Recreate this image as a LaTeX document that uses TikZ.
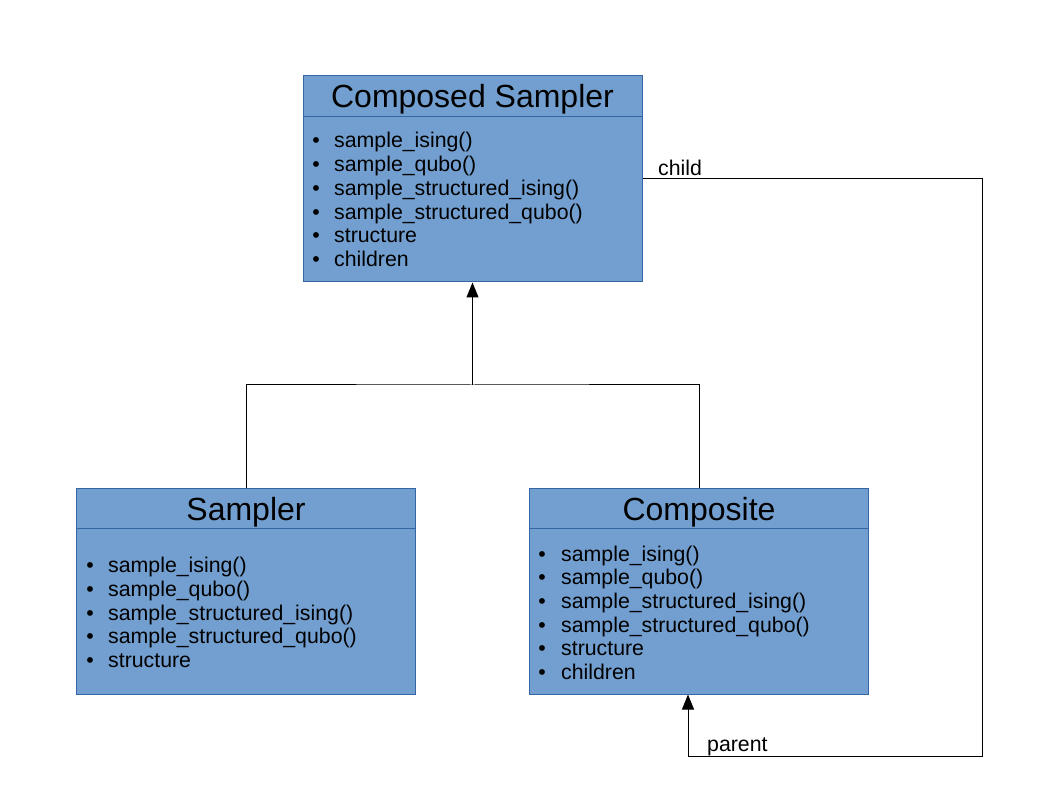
\documentclass[tikz,border=0pt]{standalone}
\usepackage{fontspec}
\setmainfont{Liberation Sans}
\usetikzlibrary{arrows.meta}
\definecolor{boxfill}{HTML}{729FCF}
\definecolor{boxline}{HTML}{3465A4}
\begin{document}
\begin{tikzpicture}[x=1pt, y=-1pt]
\tikzstyle{classbox} = [draw=boxline, fill=boxfill, line width=1pt, minimum width=339pt, minimum height=206pt, inner sep=0pt];
\tikzstyle{classname} = [font=\fontsize{32}{36}\selectfont, inner sep=0pt];
\tikzstyle{member} = [font=\fontsize{21.3}{24}\selectfont, anchor=base west, inner sep=0pt];
\tikzstyle{bullet} = [font=\fontsize{21.3}{24}\selectfont, anchor=base, inner sep=0pt];
\tikzstyle{link} = [line width=1pt];
\tikzstyle{tip} = [-{Triangle[length=15pt, width=12pt]}];
\useasboundingbox (0,0) rectangle (1058,794);
% the three classes
\node[classbox] (cs) at (472.5, 179) {};
\node[classbox] (sampler) at (246, 591) {};
\node[classbox] (composite) at (699, 591) {};
\draw[boxline, line width=0.8pt] (cs.north west) ++(0,41) -- ++(339,0);
\draw[boxline, line width=0.8pt] (sampler.north west) ++(0,41) -- ++(339,0);
\draw[boxline, line width=0.8pt] (composite.north west) ++(0,41) -- ++(339,0);
\node[classname] (cs-name) at (472.5, 99) {Composed Sampler};
\node[classname] (sampler-name) at (246, 512) {Sampler};
\node[classname] (composite-name) at (699, 512) {Composite};
% members
\foreach \txt [count=\i] in {sample\_ising(), sample\_qubo(), sample\_structured\_ising(), sample\_structured\_qubo(), structure, children} {
  \node[bullet] (cs-b\i) at (316, 148+23.7*\i-23.7) {\textbullet};
  \node[member] (cs-m\i) at (334, 148+23.7*\i-23.7) {\txt};
}
\foreach \txt [count=\i] in {sample\_ising(), sample\_qubo(), sample\_structured\_ising(), sample\_structured\_qubo(), structure} {
  \node[bullet] (sampler-b\i) at (90, 572.5+23.8*\i-23.8) {\textbullet};
  \node[member] (sampler-m\i) at (108, 572.5+23.8*\i-23.8) {\txt};
}
\foreach \txt [count=\i] in {sample\_ising(), sample\_qubo(), sample\_structured\_ising(), sample\_structured\_qubo(), structure, children} {
  \node[bullet] (composite-b\i) at (542, 561+23.7*\i-23.7) {\textbullet};
  \node[member] (composite-m\i) at (561, 561+23.7*\i-23.7) {\txt};
}
% inheritance
\coordinate (join) at (472.5, 385);
\draw[link] (sampler.north) |- (join) -| (composite.north);
\draw[link, tip] (join) -- (cs.south);
% child / parent
\coordinate (corner) at (982, 756);
\draw[link, tip] (cs.east) -| (corner) -| ([xshift=-11pt]composite.south);
\node[member] (childlabel) at (658, 176) {child};
\node[member] (parentlabel) at (707, 751) {parent};
\end{tikzpicture}
\end{document}
